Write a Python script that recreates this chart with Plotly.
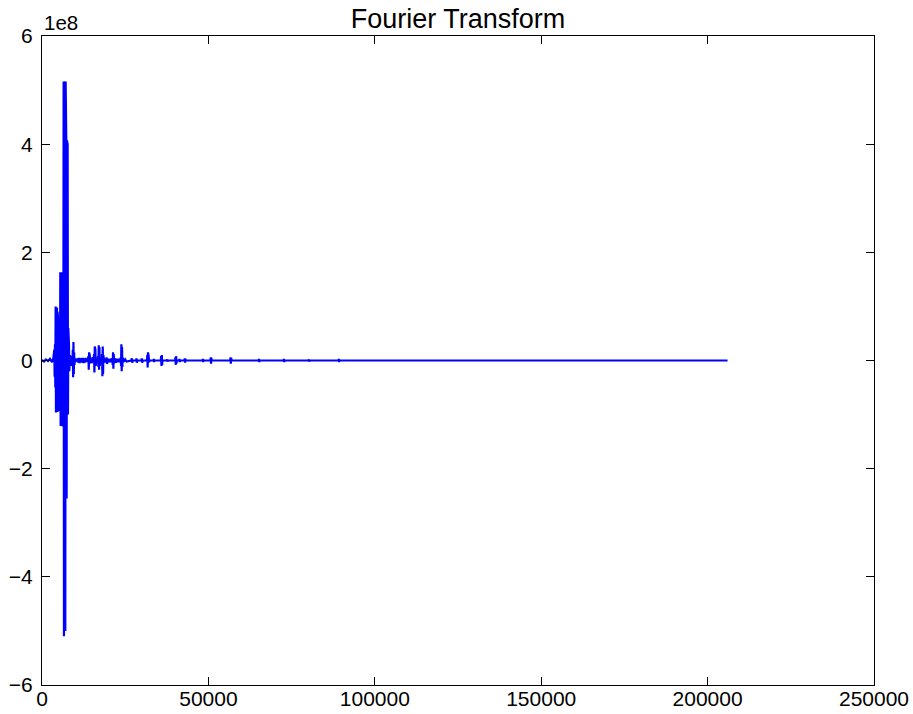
import plotly.graph_objects as go

# y values in units of 1e8
SCALE_LABEL = "1e8"

x_pre = [0, 600, 1200, 1800, 2400, 3000, 3400]
y_pre = [0.01, -0.02, 0.02, -0.01, 0.03, -0.03, 0.04]

x_main = [3700, 3800, 3900, 4000, 4100, 4200, 4300, 4400, 4500, 4600, 4700,
          4800, 4900, 5000, 5100, 5200, 5300, 5400, 5500, 5600, 5700, 5800,
          5900, 6000, 6100, 6200, 6300, 6400, 6500, 6600, 6700, 6800, 6900,
          7000, 7100, 7200, 7300, 7400, 7500, 7600, 7700, 7800, 7900, 8000,
          8100, 8200]
y_main = [0.2, -0.3, 0.3, -0.5, 1.0, -0.96, 0.95, -0.9, 0.98, -0.95, 0.9,
          -0.92, 0.67, -0.94, 0.65, -0.9, 0.67, -0.94, 1.63, -1.21, 1.6, -1.2,
          1.63, -1.21, 1.28, -1.2, 1.28, -1.21, 5.16, -5.1, 5.16, -5.1, 5.1,
          -5.0, 5.16, -2.55, 4.07, -2.55, 4.07, -2.5, 4.0, -1.0, 0.6, -0.5,
          0.3, -0.2]

x_tail = [8400, 8550, 8700, 8850, 9000,
          9150, 9250, 9350, 9450, 9550, 9650, 9750, 9900,
          10100, 10300, 10500, 10700, 10900, 11100, 11300, 11500, 11700, 11900,
          12100, 12300, 12500, 12700, 12900, 13100, 13300, 13500, 13700,
          13950, 14050, 14150, 14250, 14350, 14450,
          14700, 14950, 15200, 15450,
          15650, 15750, 15850, 15950, 16050, 16150,
          16400, 16650, 16850,
          16950, 17050, 17150, 17250, 17350,
          17600, 17850,
          18050, 18150, 18250, 18350, 18450,
          18700, 18950, 19200,
          19400, 19500, 19600, 19700,
          19950, 20250, 20550, 20850, 21100,
          21250, 21350, 21450, 21550, 21650,
          21900, 22200, 22500, 22800, 23100, 23400, 23650,
          23750, 23850, 23950, 24050, 24150, 24250,
          24600, 25000, 25400,
          26800, 27000, 27100, 27300, 28300, 28400, 28500, 28700, 29900, 30000,
          30100, 30300,
          31550, 31650, 31750, 31850, 31950, 32050, 32150, 32300,
          33500, 33600, 33700, 33800,
          35700, 35800, 35900, 36000, 36100, 36200,
          37500, 37600, 37700, 37800,
          40000, 40100, 40200, 40300, 40400, 40500,
          41200, 41300, 41400, 41500,
          42800, 42900, 43000, 43100, 43200,
          48250, 48350, 48450, 48550,
          50600, 50700, 50800, 50900, 51000,
          56550, 56650, 56750, 56850, 56950,
          65100, 65200, 65300, 65400,
          72600, 72700, 72800, 72900,
          80100, 80200, 80300, 80400,
          89100, 89200, 89300, 89400,
          206000]
y_tail = [0.1, -0.1, 0.08, -0.06, 0.05,
          -0.1, 0.2, -0.31, 0.34, -0.25, 0.15, -0.08, 0.04,
          -0.03, 0.03, -0.02, 0.04, -0.04, 0.05, -0.05, 0.04, -0.04, 0.05,
          -0.04, 0.05, -0.05, 0.04, -0.04, 0.05, -0.03, 0.04, -0.03,
          0.08, -0.17, 0.15, -0.12, 0.1, -0.05,
          0.04, -0.05, 0.06, -0.04,
          0.12, -0.22, 0.26, -0.2, 0.2, -0.1,
          0.05, -0.05, 0.08,
          -0.12, 0.28, -0.17, 0.25, -0.1,
          0.05, -0.05,
          0.12, -0.29, 0.26, -0.25, 0.1,
          -0.04, 0.04, -0.04,
          0.06, -0.06, 0.05, -0.03,
          0.03, -0.03, 0.03, -0.03, 0.04,
          -0.08, 0.15, -0.15, 0.12, -0.05,
          0.04, -0.04, 0.03, -0.03, 0.03, -0.03, 0.05,
          -0.1, 0.30, -0.2, 0.25, -0.12, 0.05,
          -0.02, 0.02, -0.02,
          0.0, 0.04, -0.04, 0.0, 0.0, 0.04, -0.04, 0.0, 0.0, 0.04,
          -0.04, 0.0,
          0.0, 0.1, -0.13, 0.15, -0.12, 0.08, -0.03, 0.0,
          0.0, 0.03, -0.03, 0.0,
          0.0, 0.08, -0.1, 0.1, -0.08, 0.0,
          0.0, 0.02, -0.02, 0.0,
          0.0, 0.06, -0.08, 0.08, -0.06, 0.0,
          0.0, 0.03, -0.03, 0.0,
          0.0, 0.04, -0.04, 0.03, 0.0,
          0.0, 0.03, -0.03, 0.0,
          0.0, 0.06, -0.06, 0.05, 0.0,
          0.0, 0.06, -0.06, 0.05, 0.0,
          0.0, 0.03, -0.03, 0.0,
          0.0, 0.03, -0.03, 0.0,
          0.0, 0.02, -0.02, 0.0,
          0.0, 0.03, -0.03, 0.0,
          0.0]

x_vals = x_pre + x_main + x_tail
y_vals = y_pre + y_main + y_tail

x_ticks = [0, 50000, 100000, 150000, 200000, 250000]
y_ticks = [-6, -4, -2, 0, 2, 4, 6]

FONT = "Liberation Sans, Arial, Helvetica, sans-serif"

fig = go.Figure()
fig.add_trace(go.Scatter(x=x_vals, y=y_vals, mode="lines",
                         line=dict(color="#0000ff", width=2.2), hoverinfo="skip"))

axis_common = dict(showgrid=False, zeroline=False, showline=True, linecolor="black",
                   linewidth=1.2, mirror="allticks", ticks="inside", ticklen=8,
                   tickwidth=1, tickcolor="black", automargin=False,
                   tickfont=dict(family=FONT, size=21, color="black"))
fig.update_xaxes(range=[0, 250000], tickvals=x_ticks, ticktext=[str(v) for v in x_ticks],
                 ticklabelstandoff=-5, **axis_common)
fig.update_yaxes(range=[-6, 6], tickvals=y_ticks,
                 ticktext=[str(v).replace("-", "\u2212") for v in y_ticks],
                 ticklabelstandoff=4, **axis_common)

fig.update_layout(
    width=913, height=714,
    margin=dict(l=42, r=39, t=36, b=29),
    paper_bgcolor="white", plot_bgcolor="white",
    showlegend=False,
    title=dict(text="Fourier Transform", x=0.5, xanchor="center", y=1 - 19 / 714,
               yanchor="middle", xref="paper", automargin=False,
               font=dict(family=FONT, size=27, color="black")),
    annotations=[dict(text=SCALE_LABEL, xref="paper", yref="paper", x=0, y=1,
                      xanchor="left", yanchor="bottom", showarrow=False,
                      font=dict(family=FONT, size=20.5, color="black"))],
)

fig.write_html("out.html")
